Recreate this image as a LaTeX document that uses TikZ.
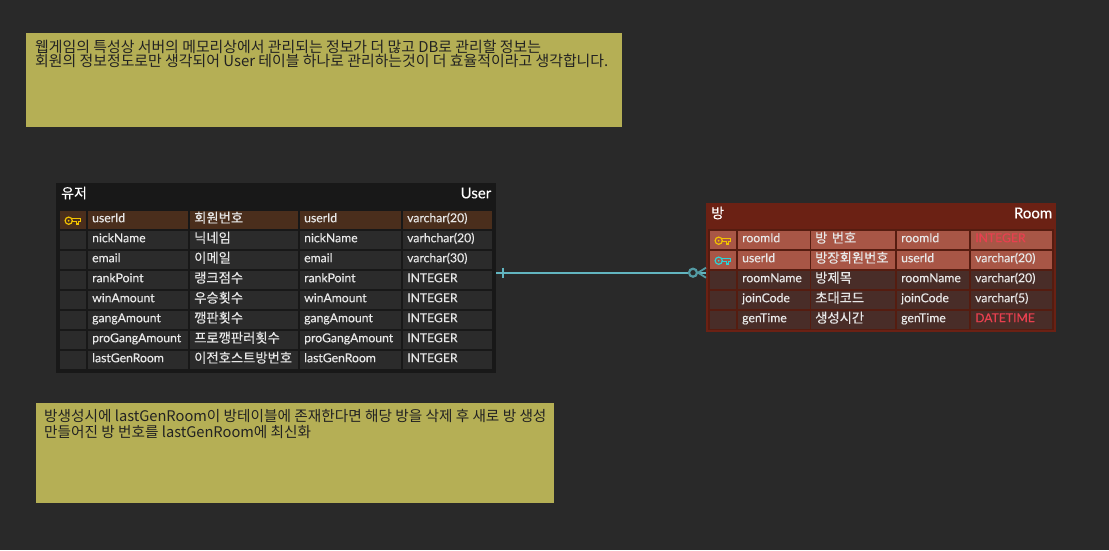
\documentclass[tikz,border=0pt]{standalone}
\usepackage{fontspec}
\setmainfont{Lato}
\newfontfamily\cellfont[FakeBold=0.25]{Lato}
\newfontfamily\krfont{Noto Sans CJK KR}
\newfontfamily\krcellfont[FakeBold=0.25]{Noto Sans CJK KR}
\usetikzlibrary{positioning}
\definecolor{Canvas}{HTML}{292929}
\definecolor{UserHead}{HTML}{181818}
\definecolor{UserCell}{HTML}{2B2B2B}
\definecolor{UserKey}{HTML}{4A2E1C}
\definecolor{RoomHead}{HTML}{6B2114}
\definecolor{RoomPanel}{HTML}{551C10}
\definecolor{RoomCell}{HTML}{492D28}
\definecolor{RoomKey}{HTML}{A85646}
\definecolor{NoteFill}{HTML}{B5AF55}
\definecolor{NoteText}{HTML}{222222}
\definecolor{CellText}{HTML}{E8E8E8}
\definecolor{TypeRed}{HTML}{E8404F}
\definecolor{LinkTeal}{HTML}{62B5C0}
\definecolor{KeyGold}{HTML}{F2C200}
\definecolor{KeyCyan}{HTML}{2CD3D8}
\tikzset{
  keyicon/.pic={
    \draw[line width=1.2pt] (-4.5,0.5) circle (3.6pt);
    \fill (-4.5,0.5) circle (1pt);
    \draw[line width=1.1pt] (-0.8,-1.6) -- (7,-1.6) -- (7,1.2) -- (5.4,1.2) -- (5.4,3.8)
      -- (3.4,3.8) -- (3.4,1.2) -- (-0.8,1.2);
  }
}
\begin{document}
\begin{tikzpicture}[
  x=1pt,y=-1pt,
  table/.style={anchor=north west,inner sep=0pt},
  head/.style={font=\cellfont\fontsize{15}{16}\selectfont,text=white},
  cell/.style={anchor=north west,inner ysep=0pt,inner xsep=4pt,minimum height=18pt,
    font=\cellfont\fontsize{12.2}{14}\selectfont,text=CellText,align=left,text height=8.6pt,text depth=4.6pt},
  krcell/.style={cell,font=\krcellfont\fontsize{13.3}{14}\selectfont,text height=8.6pt,text depth=3.6pt},
  note/.style={anchor=north west,inner sep=0pt,fill=NoteFill},
  notetext/.style={anchor=north west,inner sep=0pt,align=left,text=NoteText},
  link/.style={draw=LinkTeal,line width=2pt}
]
\path[use as bounding box,fill=Canvas] (0,0) rectangle (1109,550);

% Note 1: why a single table.
\node[note,minimum width=596pt,minimum height=94pt] (notetop) at (26,33) {};
\node[notetext,font=\krfont\fontsize{14.9}{14}\selectfont] (notetoptext)
  at ([xshift=9pt,yshift=-7pt]notetop.north west)
  {웹게임의 특성상 서버의 메모리상에서 관리되는 정보가 더 많고 DB로 관리할 정보는\\
   회원의 정보정도로만 생각되어 User 테이블 하나로 관리하는것이 더 효율적이라고 생각합니다.};

% Note 2: room regeneration.
\node[note,minimum width=518pt,minimum height=100pt] (notebottom) at (36,403) {};
\node[notetext,font=\krfont\fontsize{14.65}{16}\selectfont] (notebottomtext)
  at ([xshift=8pt,yshift=-6pt]notebottom.north west)
  {방생성시에 lastGenRoom이 방테이블에 존재한다면 해당 방을 삭제 후 새로 방 생성\\
   만들어진 방 번호를 lastGenRoom에 최신화};

% Table 1: User.
\node[table,fill=UserHead,minimum width=440pt,minimum height=190pt] (user) at (56,183) {};
\node[head,inner sep=0pt,font=\krcellfont\fontsize{14}{16}\selectfont,anchor=west] (usertitle)
  at ([xshift=5pt,yshift=-10pt]user.north west) {유저};
\node[head,inner sep=0pt,anchor=east] (username)
  at ([xshift=-5pt,yshift=-10pt]user.north east) {User};
\foreach \a/\b/\c/\d [count=\i] in {
  userId/회원번호/userId/varchar(20),
  nickName/닉네임/nickName/varhchar(20),
  email/이메일/email/varchar(30),
  rankPoint/랭크점수/rankPoint/INTEGER,
  winAmount/우승횟수/winAmount/INTEGER,
  gangAmount/깽판횟수/gangAmount/INTEGER,
  proGangAmount/프로깽판러횟수/proGangAmount/INTEGER,
  lastGenRoom/이전호스트방번호/lastGenRoom/INTEGER
}{
  \ifnum\i=1 \def\rowfill{UserKey}\else \def\rowfill{UserCell}\fi
  \node[cell,fill=\rowfill,text width=18pt] (userkey\i) at (60,{191+20*\i}) {};
  \node[cell,fill=\rowfill,text width=92pt] (usera\i) at (88,{191+20*\i}) {\a};
  \node[krcell,fill=\rowfill,text width=100pt,inner xsep=4pt] (userb\i) at (190,{191+20*\i}) {\b};
  \node[cell,fill=\rowfill,text width=93pt] (userc\i) at (300,{191+20*\i}) {\c};
  \node[cell,fill=\rowfill,text width=81pt] (userd\i) at (403,{191+20*\i}) {\d};
}
\pic[draw=KeyGold,fill=KeyGold] at (userkey1.center) {keyicon};

% Table 2: Room.
\node[table,fill=RoomHead,minimum width=350pt,minimum height=129pt] (room) at (706,203) {};
\node[table,fill=RoomPanel,minimum width=346pt,minimum height=101pt] (roompanel) at (708,229) {};
\node[head,inner sep=0pt,font=\krcellfont\fontsize{14}{16}\selectfont,anchor=west] (roomtitle)
  at ([xshift=5pt,yshift=-10pt]room.north west) {방};
\node[head,inner sep=0pt,anchor=east] (roomname)
  at ([xshift=-4pt,yshift=-10pt]room.north east) {Room};
\foreach \a/\b/\c/\d [count=\i] in {
  roomId/방 번호/roomId/\textcolor{TypeRed}{INTEGER},
  userId/방장회원번호/userId/varchar(20),
  roomName/방제목/roomName/varchar(20),
  joinCode/초대코드/joinCode/varchar(5),
  genTime/생성시간/genTime/\textcolor{TypeRed}{DATETIME}
}{
  \ifnum\i<3 \def\rowfill{RoomKey}\else \def\rowfill{RoomCell}\fi
  \node[cell,fill=\rowfill,text width=18pt] (roomkey\i) at (710,{211+20*\i}) {};
  \node[cell,fill=\rowfill,text width=64pt] (rooma\i) at (738,{211+20*\i}) {\a};
  \node[krcell,fill=\rowfill,text width=76pt] (roomb\i) at (811,{211+20*\i}) {\b};
  \node[cell,fill=\rowfill,text width=64pt] (roomc\i) at (897,{211+20*\i}) {\c};
  \node[cell,fill=\rowfill,text width=73pt] (roomd\i) at (971,{211+20*\i}) {\d};
}
\pic[draw=KeyGold,fill=KeyGold] at (roomkey1.center) {keyicon};
\pic[draw=KeyCyan,fill=KeyCyan] at (roomkey2.center) {keyicon};

% Relation: one user to zero or many rooms.
\coordinate (userlink) at ([yshift=5.5pt]user.east);
\coordinate (roomlink) at ([yshift=-5pt]room.west);
\draw[link] (userlink) -- (roomlink);
\draw[link,line width=1.2pt] ([xshift=6.5pt,yshift=5pt]userlink) -- ([xshift=6.5pt,yshift=-5pt]userlink);
\draw[link,line width=2.2pt,draw=LinkTeal!85!black,fill=Canvas] ([xshift=-13pt]roomlink) circle (4pt);
\draw[link,line width=1.8pt,draw=LinkTeal!85!black] ([xshift=-8pt]roomlink) -- ([yshift=5pt]roomlink)
  ([xshift=-8pt]roomlink) -- ([yshift=-5pt]roomlink);
\end{tikzpicture}
\end{document}
